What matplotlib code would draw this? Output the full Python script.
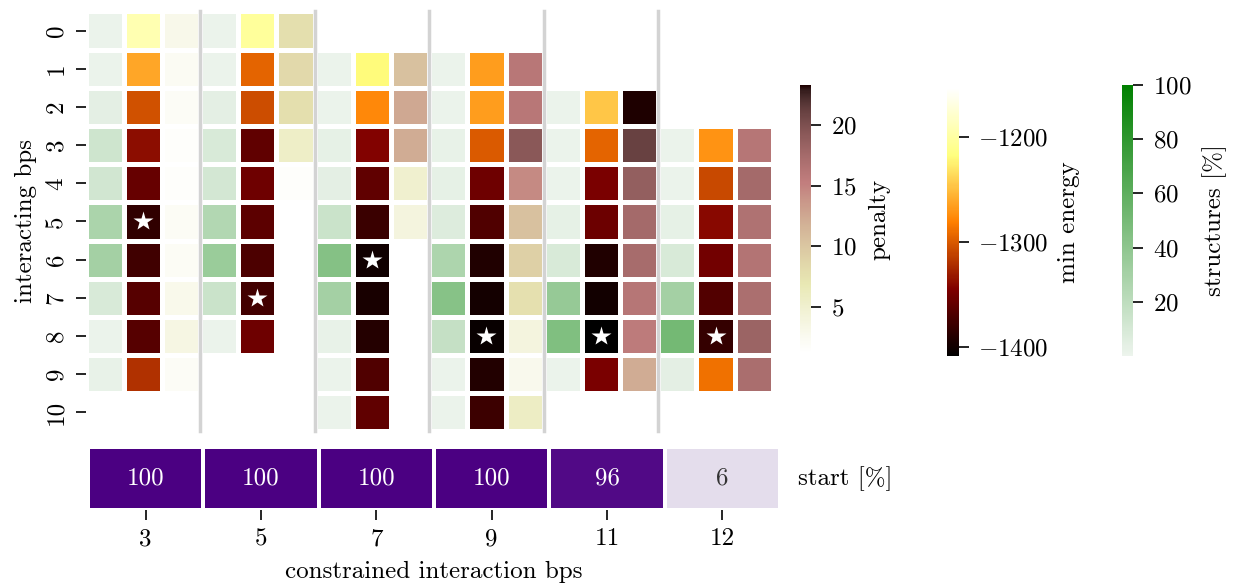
import numpy as np
import matplotlib
matplotlib.use('Agg')
import matplotlib.pyplot as plt
from matplotlib.colors import LinearSegmentedColormap

plt.rcParams['font.family'] = ['cmr10', 'DejaVu Serif']
plt.rcParams['mathtext.fontset'] = 'cm'
plt.rcParams['axes.formatter.use_mathtext'] = True
plt.rcParams['font.size'] = 18

nan = np.nan

# constrained interaction bps (one block of three columns each)
groups = [3, 5, 7, 9, 11, 12]
interacting = list(range(11))

# share of structures [%] per interacting bps, one list per group
structures = [
    [1, 1, 4, 13, 12, 28, 31, 9, 1, 2, nan],
    [1, 1, 4, 9, 11, 25, 35, 15, 1, nan, nan],
    [nan, 1, 1, 3, 4, 15, 44, 31, 2, 1, 1],
    [nan, 1, 1, 2, 3, 7, 27, 43, 17, 1, 1],
    [nan, nan, 1, 1, 1, 3, 9, 37, 46, 1, nan],
    [nan, nan, nan, 1, 1, 3, 9, 31, 51, 4, nan],
]

# minimum energy per interacting bps
min_energy = [
    [-1193, -1262, -1305, -1339, -1358, -1385, -1377, -1366, -1366, -1321, nan],
    [-1204, -1295, -1307, -1361, -1354, -1363, -1371, -1376, -1354, nan, nan],
    [nan, -1220, -1277, -1344, -1361, -1380, -1401, -1397, -1391, -1369, -1361],
    [nan, -1267, -1267, -1300, -1354, -1369, -1393, -1399, -1405, -1392, -1379],
    [nan, nan, -1246, -1295, -1348, -1355, -1393, -1400, -1409, -1348, nan],
    [nan, nan, nan, -1272, -1309, -1341, -1352, -1368, -1383, -1289, nan],
]

# penalty per interacting bps
penalty = [
    [3.0, 2.3, 2.0, 1.6, 1.6, 2.1, 2.1, 2.9, 3.6, 2.0, nan],
    [7.8, 8.3, 7.8, 5.6, 1.6, nan, nan, nan, nan, nan, nan],
    [nan, 10.5, 12.5, 12.2, 5.0, 3.9, nan, nan, nan, nan, nan],
    [nan, 16.0, 16.0, 19.3, 14.5, 10.5, 9.2, 7.6, 3.9, 2.8, 5.8],
    [nan, nan, 23.3, 21.1, 18.7, 17.6, 17.3, 16.2, 15.6, 12.2, nan],
    [nan, nan, nan, 16.2, 17.6, 16.7, 16.4, 17.0, 18.2, 17.1, nan],
]

# runs that reached the start structure [%]
start_pct = [100, 100, 100, 100, 96, 6]

n_rows = len(interacting)
n_cols = 3 * len(groups)

def to_grid(values, offset):
    grid = np.full((n_rows, n_cols), nan)
    for i, col in enumerate(values):
        grid[:, 3 * i + offset] = col
    return np.ma.masked_invalid(grid)

green_cmap = LinearSegmentedColormap.from_list('greens_light', ['#edf4ed', '#008000'])
indigo_cmap = LinearSegmentedColormap.from_list('indigo_light', ['#eeebf3', '#4b0082'])

fig = plt.figure(figsize=(12.34, 5.86), dpi=100)
ax = fig.add_axes([0.0693, 0.2637, 0.557, 0.7167])
cax_pen = fig.add_axes([0.648, 0.3976, 0.0095, 0.457])
cax_en = fig.add_axes([0.7674, 0.3925, 0.0095, 0.457])
cax_st = fig.add_axes([0.909, 0.3925, 0.0095, 0.4625])
ax_start = fig.add_axes([0.0713, 0.1297, 0.5608, 0.108])

mesh_st = ax.pcolormesh(to_grid(structures, 0), cmap=green_cmap, vmin=0, vmax=100,
                        edgecolors='white', linewidth=2.5)
mesh_en = ax.pcolormesh(to_grid(min_energy, 1), cmap='afmhot', vmin=-1409, vmax=-1153,
                        edgecolors='white', linewidth=2.5)
mesh_pen = ax.pcolormesh(to_grid(penalty, 2), cmap='pink_r', vmin=1.2, vmax=23.3,
                         edgecolors='white', linewidth=2.5)

# mark the lowest energy of every group
for i, col in enumerate(min_energy):
    r = int(np.nanargmin(col))
    ax.plot(3 * i + 1.5, r + 0.5, marker='*', color='white', ms=15, mec='none')

for x in range(3, n_cols, 3):
    ax.axvline(x, color='lightgray', lw=2.5, clip_on=False)

ax.set_xlim(0, n_cols)
ax.set_ylim(n_rows, 0)
ax.set_xticks([])
ax.set_yticks(np.arange(n_rows) + 0.5)
ax.set_yticklabels(interacting, rotation=90, va='center')
ax.tick_params(axis='y', length=7, width=1.2, pad=6)
ax.set_ylabel('interacting bps', labelpad=6)
for s in ax.spines.values():
    s.set_visible(False)

cb = fig.colorbar(mesh_pen, cax=cax_pen, ticks=[5, 10, 15, 20])
cb.set_label('penalty', labelpad=8)
cb = fig.colorbar(mesh_en, cax=cax_en, ticks=[-1400, -1300, -1200])
cb.set_label('min energy', labelpad=7)
cb = fig.colorbar(mesh_st, cax=cax_st, ticks=[20, 40, 60, 80, 100])
cb.set_label('structures [%]', labelpad=8)
for c in (cax_pen, cax_en, cax_st):
    for s in c.spines.values():
        s.set_visible(False)
    c.tick_params(length=7, width=1.2, pad=7)

# start bar below the heatmap
ax_start.pcolormesh(np.array([start_pct]), cmap=indigo_cmap, vmin=0, vmax=100,
                    edgecolors='white', linewidth=1.5)
for i, v in enumerate(start_pct):
    ax_start.text(i + 0.5, 0.5, str(v), ha='center', va='center',
                  color='white' if v > 50 else '#333333')
ax_start.set_xlim(0, len(groups))
ax_start.set_ylim(0, 1)
ax_start.set_xticks(np.arange(len(groups)) + 0.5)
ax_start.set_xticklabels(groups)
ax_start.set_yticks([])
ax_start.tick_params(axis='x', length=7, width=1.2, pad=6)
ax_start.set_xlabel('constrained interaction bps', labelpad=8)
ax_start.yaxis.set_label_position('right')
ax_start.set_ylabel('start [%]', rotation=0, ha='left', va='center', labelpad=13)
for s in ax_start.spines.values():
    s.set_visible(False)

fig.savefig('out.png', dpi=100)
